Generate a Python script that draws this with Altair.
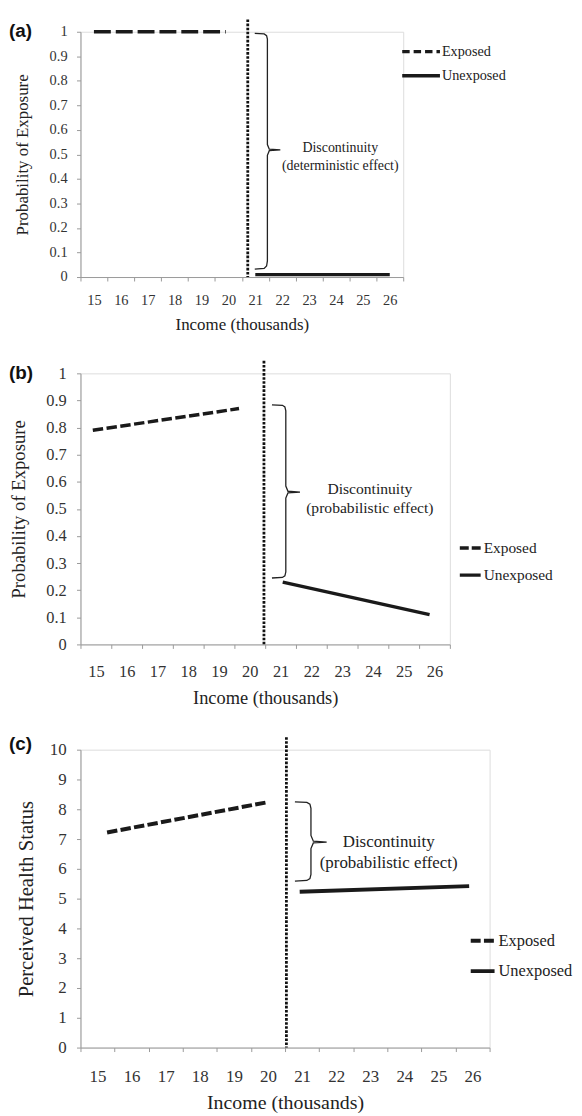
import altair as alt
import pandas as pd

# ---------------- data ----------------
X_TICKS = [14.5, 15.5, 16.5, 17.5, 18.5, 19.5, 20.5, 21.5, 22.5, 23.5, 24.5, 25.5, 26.5]
X_LABELS = ["15", "16", "17", "18", "19", "20", "21", "22", "23", "24", "25", "26", ""]

PROB_TICKS = [0, 0.1, 0.2, 0.3, 0.4, 0.5, 0.6, 0.7, 0.8, 0.9, 1]
PROB_LABELS = ["0", "0.1", "0.2", "0.3", "0.4", "0.5", "0.6", "0.7", "0.8", "0.9", "1"]
HEALTH_TICKS = [0, 1, 2, 3, 4, 5, 6, 7, 8, 9, 10]
HEALTH_LABELS = ["0", "1", "2", "3", "4", "5", "6", "7", "8", "9", "10"]

SERIES = ["Exposed", "Unexposed"]
NOTE_TEXT_A = ["Discontinuity", "(deterministic effect)"]
NOTE_TEXT_BC = ["Discontinuity", "(probabilistic effect)"]

# panel (a)
a_exposed_x = [15.0, 19.9]
a_exposed_y = [1.0, 1.0]
a_unexposed_x = [21.0, 26.0]
a_unexposed_y = [0.01, 0.01]
a_cutoff_x = [20.72]
a_cutoff_top = [1.05]
a_brace_x = [20.98, 21.33, 21.42, 21.45, 21.45, 21.52, 21.93, 21.52, 21.45, 21.45, 21.42, 21.33, 20.98]
a_brace_y = [0.993, 0.991, 0.984, 0.970, 0.540, 0.521, 0.518, 0.515, 0.496, 0.066, 0.045, 0.035, 0.032]
a_note_x = [24.16, 24.16]
a_note_y = [0.526, 0.453]

# panel (b)
b_exposed_x = [14.9, 19.65]
b_exposed_y = [0.79, 0.87]
b_unexposed_x = [21.07, 25.84]
b_unexposed_y = [0.23, 0.11]
b_cutoff_x = [20.46]
b_cutoff_top = [1.046]
b_brace_x = [20.72, 21.06, 21.14, 21.17, 21.17, 21.24, 21.63, 21.24, 21.17, 21.17, 21.14, 21.06, 20.72]
b_brace_y = [0.884, 0.882, 0.876, 0.862, 0.584, 0.565, 0.562, 0.559, 0.540, 0.267, 0.253, 0.247, 0.245]
b_note_x = [23.9, 23.9]
b_note_y = [0.573, 0.504]

# panel (c)
c_exposed_x = [15.28, 20.0]
c_exposed_y = [7.22, 8.24]
c_unexposed_x = [20.93, 25.9]
c_unexposed_y = [5.23, 5.42]
c_cutoff_x = [20.54]
c_cutoff_top = [10.42]
c_brace_x = [20.79, 21.14, 21.23, 21.26, 21.26, 21.33, 21.72, 21.33, 21.26, 21.26, 21.23, 21.14, 20.79]
c_brace_y = [8.25, 8.23, 8.17, 8.03, 7.12, 6.93, 6.90, 6.87, 6.68, 5.81, 5.67, 5.61, 5.59]
c_note_x = [23.54, 23.54]
c_note_y = [6.89, 6.20]

SERIF = "Liberation Serif"
SANS = "Liberation Sans"
INK = "#1a1a1a"
GRID = "#9a9a9a"


def label_expr(labels, expr_index):
    arr = "[" + ",".join("'" + s + "'" for s in labels) + "]"
    return arr + "[" + expr_index + "]"


def panel(tag, ex_x, ex_y, un_x, un_y, cut_x, cut_top, br_x, br_y, nt_x, nt_y, notes,
          y_ticks, y_labels, y_index, y_max, y_title, w, h, st):
    exposed = pd.DataFrame({"x": ex_x, "y": ex_y})
    unexposed = pd.DataFrame({"x": un_x, "y": un_y})
    # one point per series: draws nothing, only feeds the legend
    key = pd.DataFrame({"x": [ex_x[0], un_x[0]], "y": [ex_y[0], un_y[0]], "series": SERIES})
    cut = pd.DataFrame({"x": cut_x, "y": cut_top, "y2": [0] * len(cut_x)})
    brace = pd.DataFrame({"x": br_x, "y": br_y, "i": list(range(len(br_x)))})
    note = pd.DataFrame({"x": nt_x, "y": nt_y, "t": notes})
    tagdf = pd.DataFrame({"tag": [tag]})

    xs = alt.Scale(domain=[14.5, 26.5], nice=False, zero=False)
    ys = alt.Scale(domain=[0, y_max], nice=False, zero=False)
    xaxis = alt.Axis(
        values=X_TICKS, labelExpr=label_expr(X_LABELS, "round(datum.value - 14.5)"),
        labelOffset=w / 24.0, labelFlush=False, labelOverlap=False, grid=False,
        tickSize=4, tickColor=GRID, domainColor=GRID, tickWidth=1, domainWidth=1,
        labelFont=SERIF, labelFontSize=st["lab"], labelColor="#333", labelPadding=st["xlp"],
        title="Income (thousands)", titleFont=SERIF, titleFontSize=st["xt"],
        titleFontWeight="normal", titleColor="#222", titlePadding=st["xtp"])
    yaxis = alt.Axis(
        values=y_ticks, labelExpr=label_expr(y_labels, y_index), labelFlush=False,
        labelOverlap=False, grid=False,
        tickSize=4, tickColor=GRID, domainColor=GRID, tickWidth=1, domainWidth=1,
        labelFont=SERIF, labelFontSize=st["lab"], labelColor="#333", labelPadding=st["ylp"],
        title=y_title, titleFont=SERIF, titleFontSize=st["yt"], titleFontWeight="normal",
        titleColor="#222", titlePadding=st["ytp"])

    X = alt.X("x:Q", scale=xs, axis=xaxis)
    Y = alt.Y("y:Q", scale=ys, axis=yaxis)

    L = st["sym"]
    legend_opts = dict(
        orient="none", legendX=st["lx"], legendY=st["ly"], title=None, direction="vertical",
        symbolType="stroke", symbolSize=L * L, symbolStrokeWidth=st["lw"],
        symbolStrokeColor=INK, symbolOpacity=1, labelFont=SERIF, labelFontSize=st["leg"],
        labelColor="#222", labelOffset=st["lo"], rowPadding=st["rp"], padding=0)
    if "clip" in st:
        legend_opts["clipHeight"] = st["clip"]
    legend = alt.Legend(**legend_opts)

    ex_layer = alt.Chart(exposed).mark_line(color=INK, strokeWidth=st["lw"], strokeCap="butt",
                                            strokeDash=st["dash"]).encode(x=X, y=Y)
    un_layer = alt.Chart(unexposed).mark_line(color=INK, strokeWidth=st["lw"],
                                              strokeCap="butt").encode(x=X, y=Y)
    key_layer = alt.Chart(key).mark_line(color=INK, strokeWidth=st["lw"], strokeCap="butt").encode(
        x=X, y=Y,
        strokeDash=alt.StrokeDash("series:N",
                                  scale=alt.Scale(domain=SERIES, range=[st["ldash"], [1, 0]]),
                                  legend=legend),
    )
    cut_layer = alt.Chart(cut).mark_rule(color="#111", strokeWidth=2.8, strokeDash=[2.6, 1.5]).encode(
        x=X, y=Y, y2=alt.Y2("y2:Q"))
    brace_layer = alt.Chart(brace).mark_line(color="#222", strokeWidth=1.3).encode(
        x=X, y=Y, order=alt.Order("i:Q"))
    note_layer = alt.Chart(note).mark_text(font=SERIF, fontSize=st["note"], color="#222",
                                           align="center", baseline="middle").encode(
        x=X, y=Y, text="t:N")
    tag_layer = alt.Chart(tagdf).mark_text(font=SANS, fontWeight="bold", fontSize=19,
                                           color="#111", align="left", baseline="middle").encode(
        x=alt.value(-72), y=alt.value(st["tagy"]), text="tag:N")

    return alt.layer(ex_layer, un_layer, key_layer, cut_layer, brace_layer, note_layer,
                     tag_layer).properties(width=w, height=h)


st_a = dict(lab=14.5, xlp=13, xt=17, xtp=9.0, ylp=9.5, yt=17, ytp=17.6,
            sym=38, lw=3.4, dash=[17, 5], ldash=[7.5, 4], lx=322, ly=10, lo=0, rp=4.3, clip=20,
            leg=14.3, note=14, tagy=-1.2)
st_b = dict(lab=16.5, xlp=14.9, xt=18.5, xtp=9.5, ylp=10.3, yt=18.8, ytp=17.6,
            sym=21, lw=3.5, dash=[10.5, 3.5], ldash=[9, 3], lx=380, ly=163.5, lo=1, rp=6.2,
            leg=15.5, note=15.7, tagy=0)
st_c = dict(lab=17, xlp=17.2, xt=20, xtp=8.5, ylp=10.5, yt=20.7, ytp=13,
            sym=24, lw=4, dash=[10.5, 3.3], ldash=[10, 3.3], lx=391, ly=178.4, lo=2, rp=7.6,
            leg=16.5, note=17, tagy=-6)

pa = panel("(a)", a_exposed_x, a_exposed_y, a_unexposed_x, a_unexposed_y, a_cutoff_x, a_cutoff_top,
           a_brace_x, a_brace_y, a_note_x, a_note_y, NOTE_TEXT_A,
           PROB_TICKS, PROB_LABELS, "round(datum.value * 10)", 1, "Probability of Exposure",
           325, 247, st_a)
pb = panel("(b)", b_exposed_x, b_exposed_y, b_unexposed_x, b_unexposed_y, b_cutoff_x, b_cutoff_top,
           b_brace_x, b_brace_y, b_note_x, b_note_y, NOTE_TEXT_BC,
           PROB_TICKS, PROB_LABELS, "round(datum.value * 10)", 1, "Probability of Exposure",
           372, 273, st_b)
pc = panel("(c)", c_exposed_x, c_exposed_y, c_unexposed_x, c_unexposed_y, c_cutoff_x, c_cutoff_top,
           c_brace_x, c_brace_y, c_note_x, c_note_y, NOTE_TEXT_BC,
           HEALTH_TICKS, HEALTH_LABELS, "round(datum.value)", 10, "Perceived Health Status",
           412, 300, st_c)

chart = alt.vconcat(pa, pb, pc, spacing=26).resolve_scale(
    x="independent", y="independent", strokeDash="independent"
).resolve_legend(strokeDash="independent").properties(
    padding={"left": 0, "top": 5, "right": 0, "bottom": 0}
).configure_view(strokeWidth=0).configure(background="white")

chart.save("out.html", embed_options={"renderer": "svg", "actions": False})
